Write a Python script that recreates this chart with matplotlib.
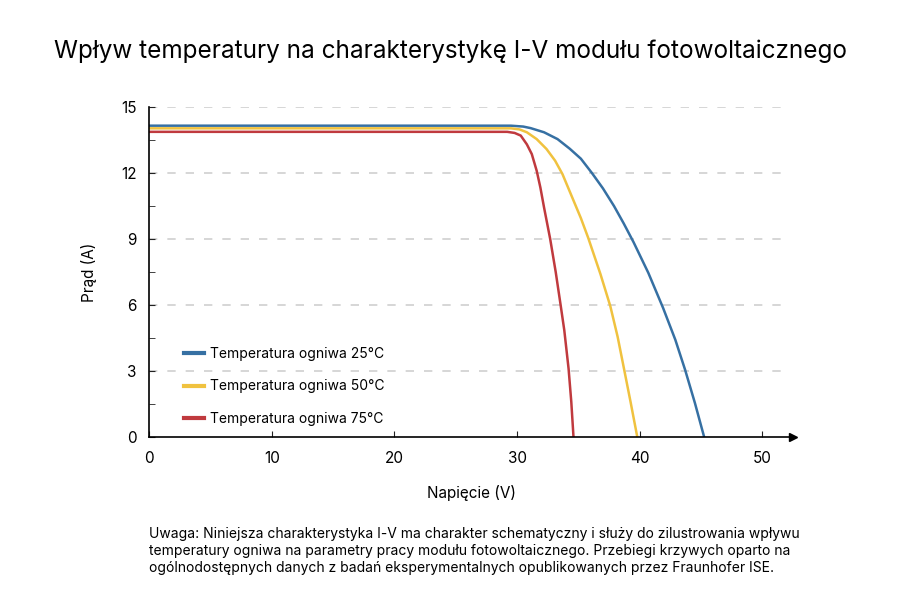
import numpy as np
import matplotlib
matplotlib.use('Agg')
from matplotlib import pyplot as plt
from matplotlib.ticker import MultipleLocator

plt.rcParams['font.family'] = ['Inter', 'DejaVu Sans']

v_25 = [0, 29.5, 30.5, 31.1, 32.2, 33.3, 34.3, 35.2, 36.1, 37.0, 37.9, 38.7, 39.5, 40.7, 41.9, 42.9, 43.7, 44.5, 45.25]
i_25 = [14.15, 14.15, 14.11, 14.04, 13.85, 13.54, 13.1, 12.65, 12.0, 11.3, 10.5, 9.7, 8.85, 7.46, 5.87, 4.42, 3.05, 1.54, 0]
v_50 = [0, 29.5, 30.2, 30.8, 31.6, 32.4, 33.1, 33.7, 34.3, 35.2, 35.8, 36.8, 37.6, 38.2, 38.7, 39.25, 39.8]
i_50 = [14.03, 14.03, 13.98, 13.85, 13.54, 13.09, 12.56, 11.95, 11.15, 9.95, 9.05, 7.4, 5.95, 4.55, 3.15, 1.6, 0]
v_75 = [0, 29.2, 29.8, 30.3, 30.8, 31.2, 31.6, 31.9, 32.2, 32.7, 33.15, 33.55, 33.85, 34.2, 34.42, 34.6]
i_75 = [13.87, 13.87, 13.82, 13.7, 13.3, 12.86, 12.1, 11.34, 10.43, 9.0, 7.5, 6.0, 4.85, 3.1, 1.6, 0]

labels = ['Temperatura ogniwa 25°C', 'Temperatura ogniwa 50°C', 'Temperatura ogniwa 75°C']
colors = ['#3670a3', '#f0c23f', '#c03a3e']

fig = plt.figure(figsize=(9, 6), dpi=100)
ax = fig.add_axes([0.1656, 0.2717, 0.7156, 0.55])

for v, i, lab, c in zip([v_25, v_50, v_75], [i_25, i_50, i_75], labels, colors):
    ax.plot(v, i, color=c, linewidth=1.8, label=lab, solid_joinstyle='round')

ax.set_xlim(0, 52.5)
ax.set_ylim(0, 15)
ax.yaxis.set_major_locator(MultipleLocator(3))
ax.yaxis.set_minor_locator(MultipleLocator(1.5))
ax.set_xticks([0, 10, 20, 30, 40, 50])

ax.spines['top'].set_visible(False)
ax.spines['right'].set_visible(False)
ax.spines['left'].set_linewidth(1.2)
ax.spines['bottom'].set_linewidth(1.2)
ax.plot(1, 0, '>k', markersize=6, transform=ax.get_yaxis_transform(), clip_on=False)

ax.tick_params(axis='both', which='both', direction='in', labelsize=11, color='#222222')
ax.tick_params(axis='x', which='major', length=4, pad=10)
ax.tick_params(axis='y', which='major', length=4, pad=9)
ax.tick_params(axis='y', which='minor', length=4)

for y in [3, 6, 9, 12, 15]:
    ax.axhline(y, xmax=0.99, color='#cfcfcf', linewidth=1.2, dashes=(5, 6), zorder=0)

ax.set_xlabel('Napięcie (V)', fontsize=11, labelpad=14)
ax.set_ylabel('Prąd (A)', fontsize=11, labelpad=17)

leg = ax.legend(loc='lower left', bbox_to_anchor=(0.035, -0.005), frameon=False,
                fontsize=10, labelspacing=1.35, handlelength=1.4, handletextpad=0.45)
for h in leg.legend_handles:
    h.set_linewidth(3)

fig.text(0.5, 0.915, 'Wpływ temperatury na charakterystykę I-V modułu fotowoltaicznego',
         ha='center', va='center', fontsize=17.5)

note = ('Uwaga: Niniejsza charakterystyka I-V ma charakter schematyczny i służy do zilustrowania wpływu\n'
        'temperatury ogniwa na parametry pracy modułu fotowoltaicznego. Przebiegi krzywych oparto na\n'
        'ogólnodostępnych danych z badań eksperymentalnych opublikowanych przez Fraunhofer ISE.')
fig.text(0.166, 0.121, note, ha='left', va='top', fontsize=10, linespacing=1.25)

plt.savefig('out.png', dpi=100)
